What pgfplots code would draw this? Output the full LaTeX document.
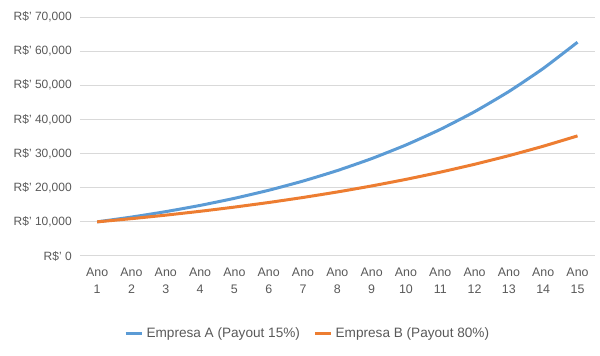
\documentclass[border=0pt]{standalone}
\usepackage{fontspec}
\setmainfont{Liberation Sans}
\usepackage{pgfplots}
\pgfplotsset{compat=1.18}
\definecolor{serA}{HTML}{5B9BD5}
\definecolor{serB}{HTML}{ED7D31}
\definecolor{gridc}{HTML}{D9D9D9}
\definecolor{txt}{HTML}{595959}
\begin{document}
\begin{tikzpicture}
\path[use as bounding box] (-60pt,-75pt) rectangle (390pt,192pt);
\begin{axis}[
  at={(0,0)}, anchor=origin,
  scale only axis, width=386pt, height=179.25pt,
  xmin=0.5, xmax=15.5, ymin=0, ymax=70000,
  scaled y ticks=false,
  axis line style={draw=none},
  xtick={1,...,15},
  xticklabels={{Ano\\1},{Ano\\2},{Ano\\3},{Ano\\4},{Ano\\5},{Ano\\6},{Ano\\7},{Ano\\8},{Ano\\9},{Ano\\10},{Ano\\11},{Ano\\12},{Ano\\13},{Ano\\14},{Ano\\15}},
  x tick label style={align=center, font=\fontsize{9.3pt}{12.75pt}\selectfont, text=txt, inner sep=0pt, yshift=-8.5pt},
  ytick={0,10000,...,70000},
  yticklabels={R\$' 0,R\$' 10{,}000,R\$' 20{,}000,R\$' 30{,}000,R\$' 40{,}000,R\$' 50{,}000,R\$' 60{,}000,R\$' 70{,}000},
  y tick label style={font=\fontsize{9pt}{11pt}\selectfont, text=txt, inner sep=0pt, xshift=-6pt},
  major tick length=0pt,
  ymajorgrids, grid style={draw=gridc, line width=0.75pt},
  legend style={at={(0.443,-0.326)}, anchor=center, draw=none, fill=none,
    font=\fontsize{10.2pt}{12pt}\selectfont, text=txt, legend columns=2,
    /tikz/every even column/.append style={column sep=8pt}},
  legend image code/.code={\draw[#1, line width=2.25pt] (0pt,0pt) -- (12.5pt,0pt);},
]
\addplot[serA, line width=2.25pt, smooth, tension=0.3] coordinates {
(1,10000) (2,11400) (3,12996) (4,14815) (5,16890) (6,19254) (7,21950) (8,25023)
(9,28526) (10,32519) (11,37072) (12,42262) (13,48179) (14,54924) (15,62613)};
\addlegendentry{Empresa A (Payout 15\%)}
\addplot[serB, line width=2.25pt, smooth, tension=0.3] coordinates {
(1,10000) (2,10940) (3,11968) (4,13093) (5,14324) (6,15671) (7,17144) (8,18755)
(9,20518) (10,22447) (11,24557) (12,26865) (13,29391) (14,32153) (15,35176)};
\addlegendentry{Empresa B (Payout 80\%)}
\end{axis}
\end{tikzpicture}
\end{document}
